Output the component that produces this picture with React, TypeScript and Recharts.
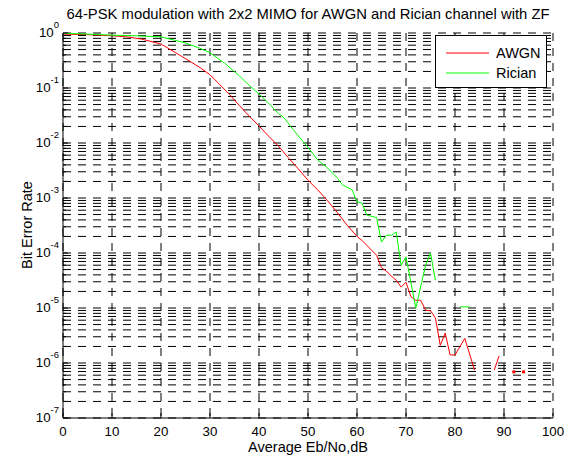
import { LineChart, Line, XAxis, YAxis, CartesianGrid, Legend } from 'recharts'

// Eb/No (dB) and bit error rate; null = no errors counted (gap in the curve)
const awgnEbNo = [0, 5, 10, 13, 16, 20, 23, 26, 28, 30, 32, 34, 36, 38, 40, 42, 44, 46, 48, 50, 52, 54, 56, 58, 60, 61, 62, 63, 64, 65, 66, 67, 68, 69, 70, 71, 72, 73, 74, 75, 76, 77, 78, 79, 80, 82, 84, 86, 88, 89, 90, 92, 93, 94]
const awgnBer = [0.955, 0.933, 0.891, 0.851, 0.776, 0.631, 0.437, 0.302, 0.234, 0.174, 0.115, 0.0759, 0.0479, 0.0309, 0.0204, 0.0132, 8.7e-3, 5.4e-3, 3.4e-3, 2.1e-3, 1.4e-3, 8.9e-4, 5.4e-4, 3.2e-4, 2.0e-4, 1.7e-4, 1.38e-4, 1.12e-4, 9.1e-5, 5.4e-5, 4.7e-5, 3.8e-5, 3.2e-5, 2.4e-5, 2.95e-5, 1.6e-5, 1.38e-5, 1.38e-5, 9.1e-6, 8.9e-6, 6.6e-6, 2.1e-6, 3.5e-6, 1.4e-6, 1.4e-6, 2.8e-6, 7.4e-7, null, 7.4e-7, 1.35e-6, null, 6.9e-7, null, 6.9e-7]

const ricianEbNo = [0, 5, 10, 15, 20, 25, 28, 30, 33, 36, 38, 40, 42, 44, 45, 47, 50, 52, 54, 56, 57, 59, 60, 61, 62, 64, 65, 66, 67, 68, 69, 70, 72, 74, 75, 76, 78, 81, 82, 83]
const ricianBer = [0.99, 0.955, 0.912, 0.89, 0.851, 0.66, 0.525, 0.437, 0.282, 0.166, 0.112, 0.0776, 0.0525, 0.0339, 0.0295, 0.0174, 8.3e-3, 4.9e-3, 3.5e-3, 2.3e-3, 1.74e-3, 1.41e-3, 8.5e-4, 8.1e-4, 4.9e-4, 4.4e-4, 1.58e-4, 2.1e-4, 2.1e-4, 2.4e-4, 6.0e-5, 8.5e-5, 1.0e-5, 6.0e-5, 1.0e-4, 3.2e-5, null, 1.05e-5, 1.05e-5, 1.05e-5]

const xTicks = [0, 10, 20, 30, 40, 50, 60, 70, 80, 90, 100]
const yExponents = [-7, -6, -5, -4, -3, -2, -1, 0]
const yMinor = [2, 3, 4, 5, 6, 7, 8, 9]

const yTicks: number[] = []
yExponents.forEach((e) => {
  yTicks.push(Math.pow(10, e))
  if (e < 0) yMinor.forEach((m) => yTicks.push(m * Math.pow(10, e)))
})

const awgnData = awgnEbNo.map((x, i) => ({ ebno: x, ber: awgnBer[i] }))
const ricianData = ricianEbNo.map((x, i) => ({ ebno: x, ber: ricianBer[i] }))

const FONT = '"Liberation Sans", Arial, Helvetica, sans-serif'
const W = 567
const H = 462

const isMajor = (v: number) => Math.abs(Math.log10(v) - Math.round(Math.log10(v))) < 1e-6

function LeftTick(props: any) {
  const { x, y, payload } = props
  const v = payload.value
  const major = isMajor(v)
  return (
    <g>
      <line x1={x} x2={x + (major ? 5 : 3)} y1={y} y2={y} stroke="#000" />
      {major && (
        <text x={x - 4} y={y + 4} textAnchor="end" fontSize={13.3} fontFamily={FONT} fill="#000">
          10<tspan dy={-9} fontSize={9.5}>{Math.round(Math.log10(v))}</tspan>
        </text>
      )}
    </g>
  )
}

function RightTick(props: any) {
  const { x, y, payload } = props
  const major = isMajor(payload.value)
  return <line x1={x} x2={x - (major ? 5 : 3)} y1={y} y2={y} stroke="#000" />
}

function BottomTick(props: any) {
  const { x, y, payload } = props
  return (
    <g>
      <line x1={x} x2={x} y1={y} y2={y - 5} stroke="#000" />
      <text x={x} y={y + 18} textAnchor="middle" fontSize={13.3} fontFamily={FONT} fill="#000">
        {payload.value}
      </text>
    </g>
  )
}

function TopTick(props: any) {
  const { x, y } = props
  return <line x1={x} x2={x} y1={y} y2={y + 5} stroke="#000" />
}

// MATLAB only shows a lone sample (both neighbours missing) as a tiny dot
const loneDot = (vals: (number | null)[], color: string) => (p: any) => {
  const i = p.index
  const alone = vals[i] != null && vals[i - 1] == null && vals[i + 1] == null
  if (!alone || p.cx == null || p.cy == null) return <g key={`d${i}`} />
  return <rect key={`d${i}`} x={p.cx - 1.5} y={p.cy - 1.5} width={3} height={3} fill={color} />
}

function LegendBox(props: any) {
  const items = props.payload || []
  return (
    <div style={{ width: 110, height: 51, background: '#fff', border: '1px solid #000', fontFamily: FONT, fontSize: 14.5 }}>
      {items.map((it: any, i: number) => (
        <div key={i} style={{ display: 'flex', alignItems: 'center', height: 20, marginTop: i === 0 ? 7 : 0 }}>
          <svg width={60} height={20}>
            <line x1={10} x2={53} y1={10} y2={10} stroke={it.color} />
          </svg>
          <span>{it.value}</span>
        </div>
      ))}
    </div>
  )
}

export default function App() {
  return (
    <div style={{ position: 'absolute', left: 0, top: 0, width: W, height: H, background: '#fff' }}>
      <LineChart width={W} height={H} margin={{ top: 33, right: 14, bottom: 0, left: 0 }}>
        <CartesianGrid stroke="#000" strokeDasharray="8 7" />
        <XAxis
          dataKey="ebno"
          type="number"
          domain={[0, 100]}
          ticks={xTicks}
          interval={0}
          height={44}
          tickSize={0}
          tickMargin={0}
          tickLine={false}
          axisLine={{ stroke: '#000' }}
          tick={<BottomTick />}
          allowDataOverflow
        />
        <XAxis
          xAxisId="top"
          orientation="top"
          type="number"
          domain={[0, 100]}
          ticks={xTicks}
          interval={0}
          height={0}
          tickSize={0}
          tickMargin={0}
          tickLine={false}
          axisLine={{ stroke: '#000' }}
          tick={<TopTick />}
          allowDataOverflow
        />
        <YAxis
          type="number"
          scale="log"
          domain={[1e-7, 1]}
          ticks={yTicks}
          interval={0}
          width={63}
          tickSize={0}
          tickMargin={0}
          tickLine={false}
          axisLine={{ stroke: '#000' }}
          tick={<LeftTick />}
          allowDataOverflow
        />
        <YAxis
          yAxisId="right"
          orientation="right"
          type="number"
          scale="log"
          domain={[1e-7, 1]}
          ticks={yTicks}
          interval={0}
          width={0}
          tickSize={0}
          tickMargin={0}
          tickLine={false}
          axisLine={{ stroke: '#000' }}
          tick={<RightTick />}
          allowDataOverflow
        />
        <Legend
          layout="horizontal"
          align="center"
          verticalAlign="middle"
          wrapperStyle={{ position: 'absolute', left: 435, top: 35, width: 112, height: 53 }}
          content={<LegendBox />}
        />
        <Line
          data={awgnData}
          dataKey="ber"
          name="AWGN"
          type="linear"
          stroke="#ff0000"
          strokeWidth={1}
          dot={loneDot(awgnBer, '#ff0000')}
          activeDot={false}
          isAnimationActive={false}
        />
        <Line
          data={ricianData}
          dataKey="ber"
          name="Rician"
          type="linear"
          stroke="#00ff00"
          strokeWidth={1}
          dot={loneDot(ricianBer, '#00ff00')}
          activeDot={false}
          isAnimationActive={false}
        />
      </LineChart>
      <svg width={W} height={H} style={{ position: 'absolute', left: 0, top: 0, pointerEvents: 'none' }}>
        <text x={308} y={19} textAnchor="middle" fontSize={14.8} fontFamily={FONT} fill="#000">
          64-PSK modulation with 2x2 MIMO for AWGN and Rician channel with ZF
        </text>
        <text x={308} y={452} textAnchor="middle" fontSize={14.5} fontFamily={FONT} fill="#000">
          Average Eb/No,dB
        </text>
        <text x={32} y={225} textAnchor="middle" fontSize={14.5} fontFamily={FONT} fill="#000" transform="rotate(-90 32 225)">
          Bit Error Rate
        </text>
      </svg>
    </div>
  )
}
